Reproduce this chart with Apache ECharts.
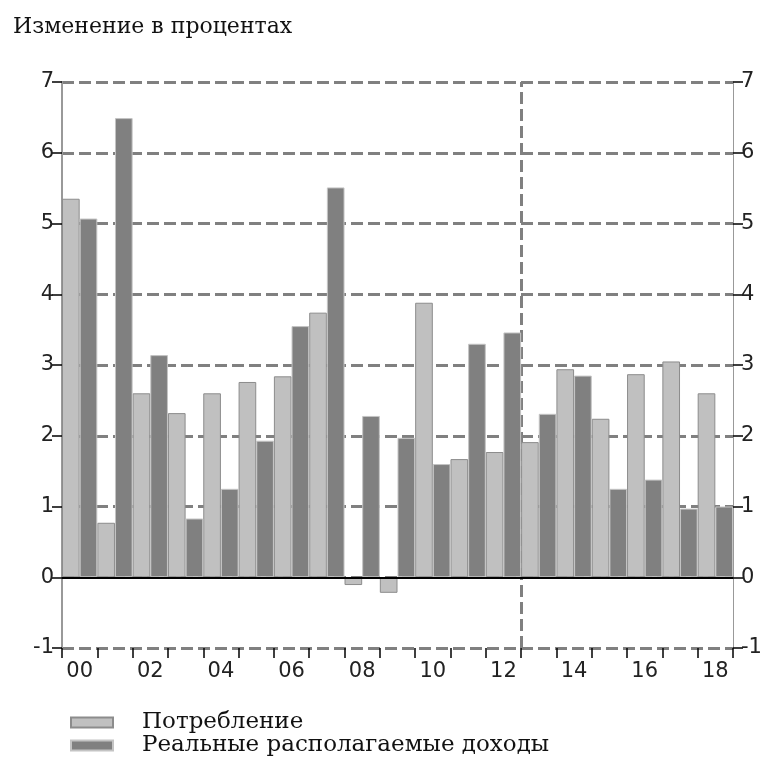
<!DOCTYPE html>
<html>
<head>
<meta charset="utf-8">
<script src="https://cdn.jsdelivr.net/npm/echarts@6/dist/echarts.min.js"></script>
<style>
  html, body { margin: 0; padding: 0; background: #fff; }
  #chart { width: 774px; height: 758px; }
</style>
</head>
<body>
<div id="chart"></div>
<script>
/**
 * Годы (подписи оси X)
 */
const years = ['00', '01', '02', '03', '04', '05', '06', '07', '08', '09',
  '10', '11', '12', '13', '14', '15', '16', '17', '18'];

// Потребление, % изм.
const consumption = [5.35, 0.77, 2.60, 2.32, 2.60, 2.76, 2.84, 3.74, -0.11, -0.22,
  3.88, 1.67, 1.77, 1.91, 2.94, 2.24, 2.87, 3.05, 2.60];

// Реальные располагаемые доходы, % изм.
const income = [5.07, 6.49, 3.14, 0.83, 1.25, 1.93, 3.55, 5.51, 2.28, 1.97,
  1.60, 3.30, 3.46, 2.31, 2.85, 1.25, 1.38, 0.97, 1.00];

// начало прогноза (индекс года 2013)
const forecastStart = 13;

const yMin = -1;
const yMax = 7;

const sansFont = 'DejaVu Sans';
const serifFont = 'DejaVu Serif';

function yAxisBase(position) {
  return {
    type: 'value',
    position: position,
    min: yMin,
    max: yMax,
    interval: 1,
    axisLine: {
      show: true,
      lineStyle: { color: '#999', width: position === 'left' ? 2 : 1 }
    },
    axisTick: {
      show: true,
      length: 10,
      lineStyle: { color: '#000', width: 1.5 }
    },
    axisLabel: {
      margin: 8,
      color: '#222',
      fontFamily: sansFont,
      fontSize: 21
    },
    splitLine: { show: false }
  };
}

/**
 * Одна строка легенды
 */
function legendItem(name, top) {
  return {
    left: 65,
    top: top,
    icon: 'rect',
    itemWidth: 42,
    itemHeight: 10,
    selectedMode: false,
    textStyle: {
      fontFamily: serifFont,
      fontSize: 23,
      lineHeight: 22,
      color: '#111',
      padding: [0, 0, 0, 24]
    },
    data: [name]
  };
}

var chart = echarts.init(document.getElementById('chart'), null, { renderer: 'canvas' });

var leftAxis = yAxisBase('left');
leftAxis.splitLine = {
  show: true,
  lineStyle: { color: '#808080', width: 3, type: [12, 5] }
};

var option = {
  animation: false,
  backgroundColor: '#fff',
  title: {
    text: 'Изменение в процентах',
    left: 8,
    top: 11,
    textStyle: {
      fontFamily: serifFont,
      fontWeight: 'normal',
      fontSize: 22,
      color: '#111'
    }
  },
  legend: [
    legendItem('Потребление', 706),
    legendItem('Реальные располагаемые доходы', 729)
  ],
  grid: {
    left: 62,
    right: 41,
    top: 82,
    bottom: 110
  },
  xAxis: [{
    type: 'category',
    data: years,
    position: 'bottom',
    boundaryGap: true,
    axisLine: { show: false, onZero: false },
    axisTick: {
      show: true,
      interval: 0,
      length: 10,
      lineStyle: { color: '#000', width: 1.5 }
    },
    axisLabel: {
      interval: 1,
      margin: 13,
      color: '#222',
      fontFamily: sansFont,
      fontSize: 21
    },
    splitLine: { show: false }
  }, {
    // вспомогательная ось для линии начала прогноза
    type: 'value',
    min: 0,
    max: years.length,
    show: false
  }],
  yAxis: [leftAxis, yAxisBase('right')],
  series: [{
    name: 'Потребление',
    type: 'bar',
    barGap: '0%',
    barCategoryGap: '0%',
    itemStyle: { color: '#c0c0c0', borderColor: '#8c8c8c', borderWidth: 1 },
    z: 3,
    data: consumption,
    markLine: {
      silent: true,
      symbol: 'none',
      z: 6,
      label: { show: false },
      lineStyle: { color: '#000', width: 2, type: 'solid' },
      data: [{ yAxis: 0 }]
    }
  }, {
    name: 'Реальные располагаемые доходы',
    type: 'bar',
    barGap: '0%',
    barCategoryGap: '0%',
    itemStyle: { color: '#808080', borderColor: '#c4c4c4', borderWidth: 1 },
    z: 3,
    data: income
  }, {
    name: 'forecast',
    type: 'line',
    xAxisIndex: 1,
    yAxisIndex: 0,
    data: [],
    z: 1,
    markLine: {
      silent: true,
      symbol: 'none',
      z: 1,
      label: { show: false },
      lineStyle: { color: '#808080', width: 3, type: [12, 5] },
      data: [{ xAxis: forecastStart }]
    }
  }]
};

chart.setOption(option);
</script>
</body>
</html>
